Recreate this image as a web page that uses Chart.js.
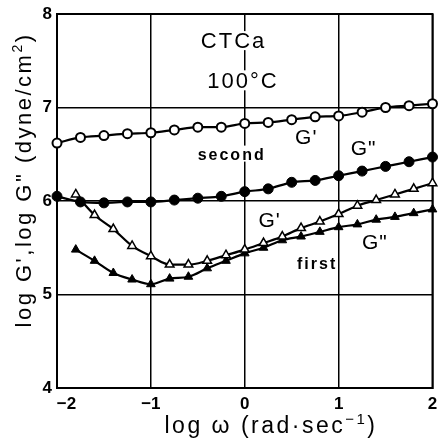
<!DOCTYPE html>
<html>
<head>
<meta charset="utf-8">
<script src="https://cdn.jsdelivr.net/npm/chart.js@4/dist/chart.umd.min.js"></script>
<style>
  html, body { margin: 0; padding: 0; background: #fff; }
  #wrap { width: 439px; height: 444px; }
</style>
</head>
<body>
<div id="wrap"><canvas id="c" width="439" height="444"></canvas></div>
<script>
// CTCa at 100 °C: storage (G') and loss (G'') moduli, first and second runs
const logOmegaSecond = [-2, -1.75, -1.5, -1.25, -1, -0.75, -0.5, -0.25, 0, 0.25, 0.5, 0.75, 1, 1.25, 1.5, 1.75, 2];
const gPrimeSecond = [6.62, 6.68, 6.70, 6.72, 6.73, 6.76, 6.79, 6.79, 6.83, 6.84, 6.87, 6.90, 6.91, 6.95, 7.00, 7.02, 7.04];
const gDoublePrimeSecond = [6.05, 5.99, 5.98, 5.99, 5.99, 6.01, 6.03, 6.05, 6.10, 6.13, 6.20, 6.22, 6.27, 6.32, 6.37, 6.42, 6.47];

const logOmegaFirst = [-1.8, -1.6, -1.4, -1.2, -1, -0.8, -0.6, -0.4, -0.2, 0, 0.2, 0.4, 0.6, 0.8, 1, 1.2, 1.4, 1.6, 1.8, 2];
const gPrimeFirst = [6.07, 5.85, 5.70, 5.52, 5.41, 5.32, 5.32, 5.36, 5.42, 5.48, 5.55, 5.62, 5.71, 5.78, 5.86, 5.95, 6.01, 6.07, 6.13, 6.19];
const gDoublePrimeFirst = [5.48, 5.36, 5.23, 5.16, 5.11, 5.17, 5.19, 5.28, 5.36, 5.44, 5.50, 5.58, 5.62, 5.67, 5.72, 5.75, 5.80, 5.83, 5.87, 5.91];

const xTicks = [-2, -1, 0, 1, 2];
const yTicks = [4, 5, 6, 7, 8];

// Text placed inside the plot, anchored in axis units
const notes = [
  { text: 'CTCa',   x: -0.13, y: 7.70, font: '22px "Liberation Sans"', spacing: 2, bg: true },
  { text: '100°C',  x: -0.03, y: 7.27, font: '22px "Liberation Sans"', spacing: 2, bg: true },
  { text: "G'",     x: 0.65,  y: 6.67, font: '21px "Liberation Sans"', spacing: 1, bg: false },
  { text: 'G"',     x: 1.26,  y: 6.55, font: '21px "Liberation Sans"', spacing: 1, bg: false },
  { text: 'second', x: -0.15, y: 6.49, font: 'bold 16px "Liberation Sans"', spacing: 2, bg: true },
  { text: "G'",     x: 0.26,  y: 5.78, font: '21px "Liberation Sans"', spacing: 1, bg: false },
  { text: 'G"',     x: 1.38,  y: 5.55, font: '21px "Liberation Sans"', spacing: 1, bg: false },
  { text: 'first',  x: 0.76,  y: 5.32, font: 'bold 16px "Liberation Sans"', spacing: 2, bg: false }
];

const pts = (xs, ys) => xs.map((x, i) => ({ x: x, y: ys[i] }));

function series(label, xs, ys, style, radius, fill, bw) {
  return {
    label: label,
    data: pts(xs, ys),
    borderColor: '#000',
    borderWidth: 2.2,
    cubicInterpolationMode: 'monotone',
    pointStyle: style,
    pointRadius: radius,
    pointBackgroundColor: fill,
    pointBorderColor: '#000',
    pointBorderWidth: bw,
    clip: false
  };
}

function drawSpaced(ctx, text, x0, y, spacing) {
  ctx.letterSpacing = spacing + 'px';
  ctx.fillText(text, x0, y);
  return ctx.measureText(text).width;
}

const textPlugin = {
  id: 'textPlugin',
  beforeDatasetsDraw(chart) {
    const ctx = chart.ctx;
    const a = chart.chartArea;
    const sx = chart.scales.x, sy = chart.scales.y;
    ctx.save();
    // plot frame
    ctx.strokeStyle = '#000';
    ctx.lineWidth = 2;
    ctx.strokeRect(a.left, a.top, a.right - a.left, a.bottom - a.top);

    ctx.textBaseline = 'middle';
    ctx.textAlign = 'left';
    notes.forEach(n => {
      ctx.font = n.font;
      ctx.letterSpacing = n.spacing + 'px';
      const m = ctx.measureText(n.text);
      const w = m.width - n.spacing;
      const cx = sx.getPixelForValue(n.x);
      const cy = sy.getPixelForValue(n.y);
      const x0 = cx - w / 2;
      if (n.bg) {
        const h = m.actualBoundingBoxAscent + m.actualBoundingBoxDescent;
        ctx.fillStyle = '#fff';
        ctx.fillRect(x0 - 2, cy - m.actualBoundingBoxAscent - 2, w + 4, h + 4);
      }
      ctx.fillStyle = '#000';
      ctx.fillText(n.text, x0, cy);
    });
    ctx.restore();
  },
  afterDraw(chart) {
    const ctx = chart.ctx;
    ctx.save();
    ctx.fillStyle = '#000';
    ctx.textBaseline = 'alphabetic';
    ctx.textAlign = 'left';

    // x axis title: log ω (rad·sec⁻¹)
    const big = '23px "Liberation Sans"';
    const small = '15px "Liberation Sans"';
    const xParts = [
      { t: 'log ω (rad·sec', f: big, dy: 0 },
      { t: '−1', f: small, dy: -9 },
      { t: ')', f: big, dy: 0 }
    ];
    const sp = 2.5;
    let total = 0;
    xParts.forEach(p => { ctx.font = p.f; ctx.letterSpacing = sp + 'px'; total += ctx.measureText(p.t).width; });
    let x = 271 - total / 2;
    xParts.forEach(p => { ctx.font = p.f; x += drawSpaced(ctx, p.t, x, 433 + p.dy, sp); });

    // y axis title: log G',log G" (dyne/cm²)
    const yParts = [
      { t: "log G',log G\" (dyne/cm", f: '22px "Liberation Sans"', dy: 0 },
      { t: '2', f: '14px "Liberation Sans"', dy: -9 },
      { t: ')', f: '22px "Liberation Sans"', dy: 0 }
    ];
    const sp2 = 2.5;
    total = 0;
    yParts.forEach(p => { ctx.font = p.f; ctx.letterSpacing = sp2 + 'px'; total += ctx.measureText(p.t).width; });
    ctx.translate(31, 180);
    ctx.rotate(-Math.PI / 2);
    x = -total / 2;
    yParts.forEach(p => { ctx.font = p.f; x += drawSpaced(ctx, p.t, x, p.dy, sp2); });
    ctx.restore();
  }
};

const tickFont = { family: 'Liberation Sans', size: 17, weight: 'bold' };

new Chart(document.getElementById('c'), {
  type: 'line',
  data: {
    datasets: [
      series("G' second", logOmegaSecond, gPrimeSecond, 'circle', 4.5, '#fff', 2),
      series('G" second', logOmegaSecond, gDoublePrimeSecond, 'circle', 5, '#000', 1),
      series("G' first", logOmegaFirst, gPrimeFirst, 'triangle', 5, '#fff', 1.5),
      series('G" first', logOmegaFirst, gDoublePrimeFirst, 'triangle', 5, '#000', 1)
    ]
  },
  options: {
    responsive: false,
    animation: false,
    devicePixelRatio: 1,
    layout: { padding: { top: 14, right: 2, left: 0, bottom: 0 } },
    plugins: { legend: { display: false }, tooltip: { enabled: false } },
    scales: {
      x: {
        type: 'linear',
        min: -2, max: 2,
        afterBuildTicks: s => { s.ticks = xTicks.map(v => ({ value: v })); },
        afterFit: s => { s.height = 56; s.paddingLeft = 0; s.paddingRight = 0; },
        ticks: {
          color: '#000', font: tickFont, padding: 6, maxRotation: 0,
          callback: v => (v === xTicks[0] ? '\u2007\u2007' : '') + String(v).replace('-', '−')
        },
        grid: { color: '#000', lineWidth: 1.5, drawTicks: false },
        border: { display: true, color: '#000', width: 2 }
      },
      y: {
        type: 'linear',
        min: 4, max: 8,
        afterBuildTicks: s => { s.ticks = yTicks.map(v => ({ value: v })); },
        afterFit: s => { s.width = 57; s.paddingTop = 0; s.paddingBottom = 0; },
        ticks: { color: '#000', font: tickFont, padding: 5 },
        grid: { color: '#000', lineWidth: 1.5, drawTicks: false },
        border: { display: true, color: '#000', width: 2 }
      }
    }
  },
  plugins: [textPlugin]
});
</script>
</body>
</html>
